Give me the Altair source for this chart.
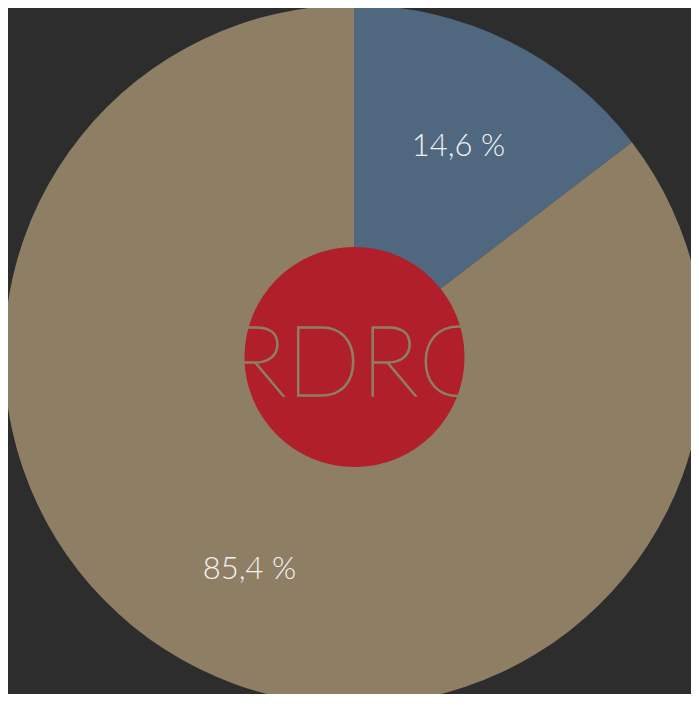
import altair as alt
import pandas as pd

categories = ["A", "B"]
values = [14.6, 85.4]
labels = ["14,6 %", "85,4 %"]
colors = ["#4f6880", "#8e7f64"]
logo_text = ["RDRC"]

df = pd.DataFrame({"cat": categories, "value": values, "label": labels, "ord": [0, 1]})

CX, CY, R = 346, 347, 350

base = alt.Chart(df).encode(
    theta=alt.Theta("value:Q", stack=True),
    order=alt.Order("ord:Q"),
    x=alt.value(CX),
    y=alt.value(CY),
)

pie = base.mark_arc(radius=R, stroke=None).encode(
    color=alt.Color("cat:N", scale=alt.Scale(domain=categories, range=colors), legend=None)
)

text = base.mark_text(radius=236, dy=3.5, font="Lato", fontWeight=300, fontSize=31,
                      color="#f2f2f2", align="center", baseline="middle").encode(
    text="label:N"
)

circle = alt.Chart(pd.DataFrame({"v": [1]})).mark_arc(
    radius=110, theta=0, theta2=6.2832, color="#b1202a"
).encode(
    x=alt.value(346.5),
    y=alt.value(349),
)

logo = alt.Chart(pd.DataFrame({"t": logo_text})).mark_text(
    font="Lato", fontWeight=100, fontSize=98, color="#8e7f64",
    stroke="#8e7f64", strokeWidth=1.3,
    align="center", baseline="alphabetic"
).encode(
    text=alt.Text("t:N"),
    x=alt.value(349),
    y=alt.value(388),
)

chart = alt.layer(pie, text, circle, logo).properties(
    width=683, height=686,
    autosize=alt.AutoSizeParams(type="none"),
    padding=0,
    background="#2d2d2d",
).configure_view(stroke=None)

chart.save("out.html", embed_options={"renderer": "svg", "actions": False})
